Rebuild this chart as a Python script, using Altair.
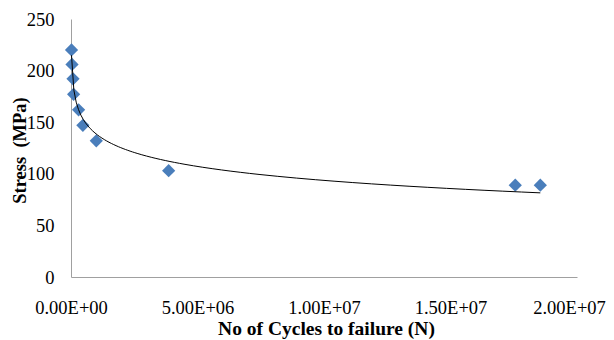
import altair as alt
import pandas as pd

# Data
cycles = [2.0e4, 4.0e4, 8.0e4, 1.03e5, 3.0e5, 4.7e5, 1.0e6, 3.86e6, 1.756e7, 1.855e7]
stress = [220, 206, 192, 177, 162, 147, 132, 103, 89, 89]

x_ticks = [0, 5e6, 1e7, 1.5e7, 2e7]
x_tick_labels = ["0.00E+00", "5.00E+06", "1.00E+07", "1.50E+07", "2.00E+07"]
y_ticks = [0, 50, 100, 150, 200, 250]

df = pd.DataFrame({"N": cycles, "S": stress})

label_expr = ""
for v, lab in zip(x_ticks, x_tick_labels):
    label_expr += f"datum.value == {v:.0f} ? '{lab}' : "
label_expr += "''"

FONT = "Times New Roman, Liberation Serif, DejaVu Serif, serif"

x_enc = alt.X(
    "N:Q",
    scale=alt.Scale(domain=[0, 2e7], nice=False, zero=True),
    axis=alt.Axis(
        values=x_ticks,
        labelExpr=label_expr,
        title="No of Cycles to failure (N)",
        titleX=255,
        titleY=57,
        titleAlign="center",
        titleBaseline="alphabetic",
        titleFontSize=19.5,
        labelPadding=21,
        labelFlush=False,
        labelOverlap=False,
        labelOffset={"condition": {"test": f"datum.value == {x_ticks[-1]:.0f}", "value": -8}, "value": 0},
    ),
)
y_enc = alt.Y(
    "S:Q",
    scale=alt.Scale(domain=[0, 250], nice=False),
    axis=alt.Axis(
        values=y_ticks,
        title="Stress\u00a0 (MPa)",
        labelPadding=17,
        titleX=-46,
        titleY=131,
        titleAlign="center",
        titleBaseline="alphabetic",
        titleAngle=270,
        titleFontSize=18.5,
    ),
)

points = alt.Chart(df).mark_point(
    shape="diamond", filled=True, size=175, color="#4A7EBB", opacity=1
).encode(x=x_enc, y=y_enc)

trend = (
    alt.Chart(df)
    .transform_regression("N", "S", method="log")
    .mark_line(color="#000000", strokeWidth=1)
    .encode(x="N:Q", y="S:Q")
)

chart = (
    alt.layer(points, trend)
    .properties(
        width=506,
        height=258,
        autosize=alt.AutoSizeParams(type="none"),
        padding={"left": 63, "top": 11, "right": 29, "bottom": 63},
    )
    .configure_view(stroke=None)
    .configure_axis(
        grid=False,
        ticks=False,
        domainColor="#A0A0A0",
        domainWidth=1,
        labelFont=FONT,
        labelFontSize=18.5,
        labelColor="#000000",
        titleFont=FONT,
        titleFontWeight="bold",
        titleColor="#000000",
    )
)

chart.save("out.html", embed_options={"renderer": "svg", "actions": False})
